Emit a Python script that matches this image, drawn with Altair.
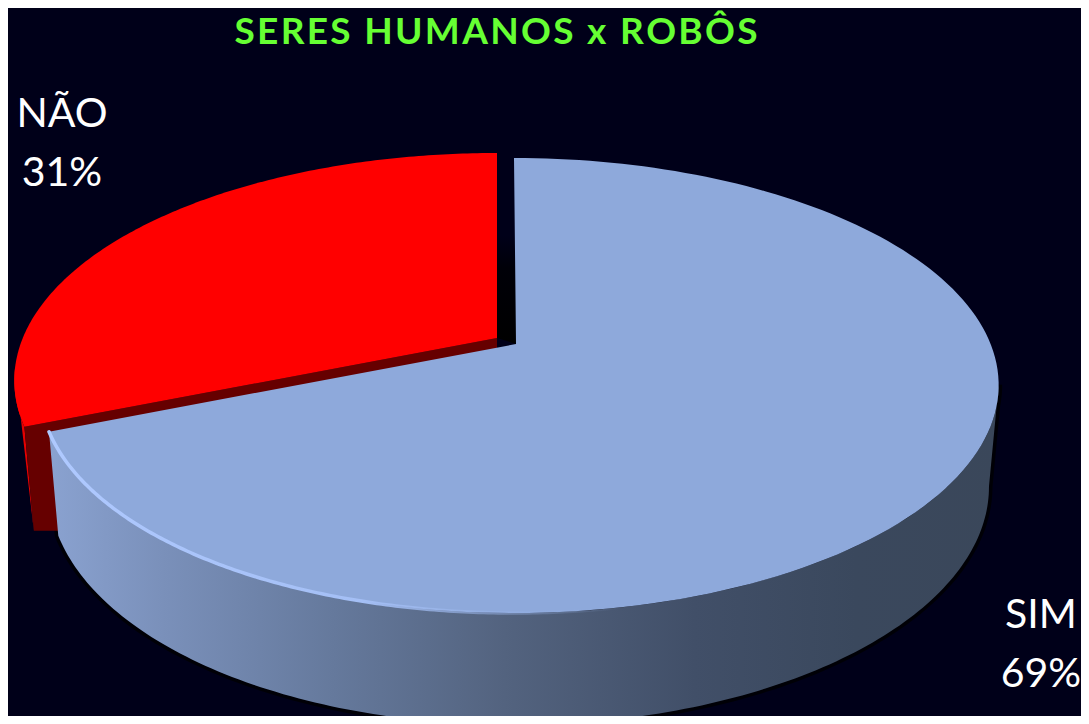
import math
import altair as alt

categories = ["NÃO", "SIM"]
values = [31, 69]
title_text = "SERES HUMANOS x ROBÔS"

BG = "#000019"
BLUE = "#8EA9DB"
RED = "#FF0000"
OFFSET = 8
share_red = values[0] / sum(values)
tip_turn = 1 - share_red


def project(turn, apex, c, e=0.0):
    """Perspective view of a point on the rim of the unit disc."""
    t = 2 * math.pi * turn
    u, v = math.sin(t), -math.cos(t)
    b, a = -0.178, 220.3
    w = 1 + b * v
    return (apex[0] + (c + e * u) * u / w, apex[1] + a * v / w)


def arc(t0, t1, apex, c, e=0.0, n=160):
    return [project(t0 + (t1 - t0) * i / n, apex, c, e) for i in range(n + 1)]


def drop(points, apex, scale=0.98):
    """Lower outline of the disc wall."""
    out = []
    for x, y in points:
        v = (y - apex[1]) / 268
        out.append((apex[0] + (x - apex[0]) * scale, y + 100 + 12 * max(v, -1)))
    return out


def poly(points):
    ring = [list(p) for p in points]
    if ring[0] != ring[-1]:
        ring.append(ring[0])
    return {"type": "Feature", "properties": {},
            "geometry": {"type": "Polygon", "coordinates": [ring]}}


def line(points):
    return {"type": "Feature", "properties": {},
            "geometry": {"type": "LineString", "coordinates": [list(p) for p in points]}}


proj = dict(type="identity", scale=1, translate=[-OFFSET, -OFFSET])


def shape(feature, **mark):
    return alt.Chart(alt.Data(values=[feature])).mark_geoshape(**mark).project(**proj)


def grad(stops, x2=1, y2=0):
    return alt.Gradient(
        gradient="linear", x1=0, y1=0, x2=x2, y2=y2,
        stops=[alt.GradientStop(offset=o, color=c) for o, c in stops],
    )


blue_apex = (516, 344)
red_apex = (497, 338)
BC, BE = 472, 5
RC = 475
BLUE_CENTRE = (514, 345)
RED_CENTRE = (497, 340)

# blue slice
blue_top = [blue_apex] + arc(0, tip_turn, BLUE_CENTRE, BC, BE)
wall_upper = arc(0.278, tip_turn, BLUE_CENTRE, BC, BE)
wall_lower = drop(wall_upper, BLUE_CENTRE)
blue_wall = wall_upper + wall_lower[::-1]
rim = arc(tip_turn, tip_turn - 0.22, BLUE_CENTRE, BC, BE)

# red slice
red_top = [red_apex] + arc(tip_turn, 1, RED_CENTRE, RC)
red_tip = project(tip_turn, RED_CENTRE, RC)
red_tip_low = drop([red_tip], RED_CENTRE)[0]
red_wall = arc(tip_turn, 0.73, RED_CENTRE, RC) + [red_tip_low]
red_cut = [red_apex, red_tip, red_tip_low,
           (red_apex[0] + 20, red_tip_low[1]), (red_apex[0], red_apex[1] + 12)]

gap = [(red_apex[0], 236), (blue_apex[0], 236), blue_apex, red_apex]

layers = [
    shape(poly(gap), fill=grad([(0, BG), (0.3, "#000008"), (1, "#000000")], x2=0, y2=1), strokeWidth=0),
    shape(poly(blue_wall), fill="#000000", stroke="#000000", strokeWidth=7, opacity=0.75),
    shape(poly(red_wall), fill="#E60000", strokeWidth=0),
    shape(poly(red_cut), fill="#660000", strokeWidth=0),
    shape(poly(red_top), fill=RED, strokeWidth=0),
    shape(poly(blue_wall), fill=grad([
        (0, "#8AA2D0"), (0.12, "#7A90BA"), (0.3, "#65799C"), (0.48, "#53637F"),
        (0.68, "#414F68"), (0.85, "#3A485D"), (1, "#3A475A")]), strokeWidth=0),
    shape(poly(blue_top), fill=BLUE, strokeWidth=0),
    shape(line(rim), filled=False, strokeWidth=3.5, strokeCap="round",
          stroke=grad([(0, "#AFC9FF"), (0.55, "#A4BFF5"), (1, "rgba(142,169,219,0)")])),
]

title_spaced = "\u200a".join(title_text)
layers.append(
    alt.Chart(alt.Data(values=[{"t": title_spaced}])).mark_text(
        font="Lato", fontWeight="bold", fontSize=37, color="#66FF33",
        align="center", baseline="alphabetic",
    ).encode(text="t:N", x=alt.value(496 - OFFSET), y=alt.value(44 - OFFSET))
)

label_x = [62, 1041]
label_y = [(127, 186), (628, 687)]
for cat, val, lx, (y1, y2) in zip(categories, values, label_x, label_y):
    for txt, ly in ((cat, y1), (f"{val}%", y2)):
        layers.append(
            alt.Chart(alt.Data(values=[{"t": txt}])).mark_text(
                font="Lato", fontSize=41, color="#FFFFFF",
                align="center", baseline="alphabetic",
            ).encode(text="t:N", x=alt.value(lx - OFFSET), y=alt.value(ly - OFFSET))
        )

chart = alt.layer(*layers).properties(
    width=1073, height=708, background=BG, padding=0,
    autosize=alt.AutoSizeParams(type="none"),
).configure_view(stroke=None)

chart.save("out.html", embed_options={"renderer": "svg", "actions": False})
